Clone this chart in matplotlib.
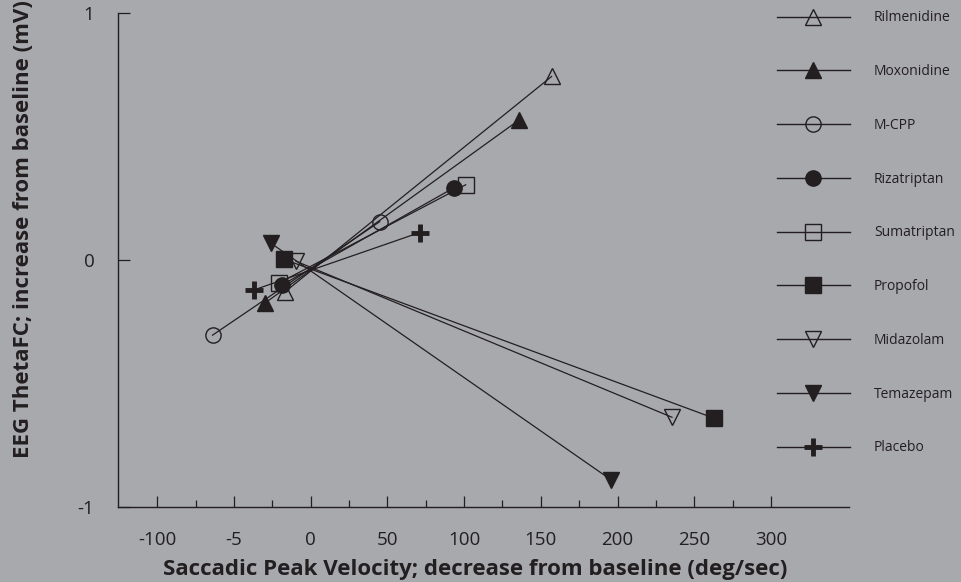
import matplotlib
matplotlib.use("Agg")
import matplotlib.pyplot as plt
from matplotlib.lines import Line2D

plt.rcParams['font.family'] = ['Open Sans', 'DejaVu Sans']

BG = '#a8a9ad'
INK = '#231f20'

drugs = ['Rilmenidine', 'Moxonidine', 'M-CPP', 'Rizatriptan', 'Sumatriptan',
         'Propofol', 'Midazolam', 'Temazepam', 'Placebo']
markers = ['^', '^', 'o', 'o', 's', 's', 'v', 'v', '+']
filled = [False, True, False, True, False, True, False, True, True]

# two points per drug: (x_low, x_high), (y_low, y_high)
x_a = [-17, -30, -64, -18.5, -21, -17.4, -9.6, -26, -37]
y_a = [-0.13, -0.175, -0.304, -0.10, -0.094, 0.003, -0.005, 0.068, -0.121]
x_b = [157, 136, 45, 93.6, 101, 263, 235.5, 196, 71]
y_b = [0.742, 0.567, 0.155, 0.293, 0.304, -0.64, -0.636, -0.89, 0.111]

xticks = [-100, -50, 0, 50, 100, 150, 200, 250, 300]
xticklabels = ['-100', '-5', '0', '50', '100', '150', '200', '250', '300']
xminor = [-75, -25, 25, 75, 125, 175, 225, 275]
yticks = [-1, 0, 1]
yticklabels = ['-1', '0', '1']

fig = plt.figure(figsize=(9.62, 5.82), dpi=100, facecolor=BG)
ax = fig.add_axes([0.1227, 0.1284, 0.7602, 0.8498])
ax.set_facecolor(BG)

handles = []
for i, d in enumerate(drugs):
    mfc = INK if filled[i] else 'none'
    ms = 11
    mew = 1.0
    if markers[i] == '+':
        ms = 13
        mew = 3.5
    ln, = ax.plot([x_a[i], x_b[i]], [y_a[i], y_b[i]], color=INK, lw=0.9,
                  marker=markers[i], markersize=ms, markerfacecolor=mfc,
                  markeredgecolor=INK, markeredgewidth=mew, clip_on=False)
    handles.append(Line2D([], [], color=INK, lw=1.0, marker=markers[i],
                          markersize=ms, markerfacecolor=mfc,
                          markeredgecolor=INK, markeredgewidth=mew,
                          label=d))

ax.set_xlim(-125.6, 351.1)
ax.set_ylim(-1, 1)
for s in ['top', 'right']:
    ax.spines[s].set_visible(False)
for s in ['left', 'bottom']:
    ax.spines[s].set_color(INK)
    ax.spines[s].set_linewidth(1.0)

ax.set_xticks(xticks)
ax.set_xticklabels(xticklabels)
ax.set_xticks(xminor, minor=True)
ax.set_yticks(yticks)
ax.set_yticklabels(yticklabels)
ax.tick_params(axis='x', which='major', direction='in', length=8, width=0.9,
               colors=INK, labelsize=13.5, pad=17)
ax.tick_params(axis='x', which='minor', direction='in', length=5, width=0.9,
               colors=INK)
ax.tick_params(axis='y', which='major', direction='in', length=8.5, width=0.9,
               colors=INK, labelsize=13.5, pad=17)

fig.text(0.494, 0.012, 'Saccadic Peak Velocity; decrease from baseline (deg/sec)',
         ha='center', va='baseline', fontsize=16, fontweight='bold', color=INK)
fig.text(0.024, 0.607, 'EEG ThetaFC; increase from baseline (mV)',
         ha='center', va='center', rotation=90, fontsize=16,
         fontweight='bold', color=INK)

leg = ax.legend(handles=handles, loc='upper left',
                bbox_to_anchor=(0.808, 0.982), bbox_transform=fig.transFigure,
                frameon=False, fontsize=10, handlelength=5.2,
                handletextpad=1.75, labelspacing=2.79, borderaxespad=0,
                borderpad=0)
for t in leg.get_texts():
    t.set_color(INK)

fig.savefig('out.png', dpi=100, facecolor=BG)
